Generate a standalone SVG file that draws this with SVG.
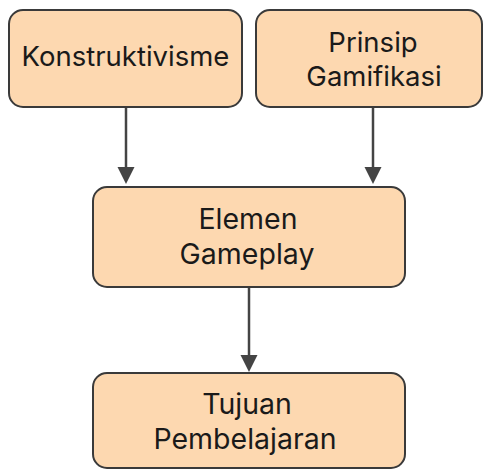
<svg xmlns="http://www.w3.org/2000/svg" width="484" height="471" viewBox="0 0 484 471">
<defs>
<style>
.box{fill:#FDD8B0;stroke:#3a3a3a;stroke-width:2}
.t{font-family:Inter,"Liberation Sans",sans-serif;font-size:27.5px;fill:#1a1a1a;text-anchor:middle}
.l{font-size:28.5px}
.c{stroke:#444;stroke-width:2.5;fill:none}
.h{fill:#444}
</style>
</defs>
<rect width="484" height="471" fill="#fff"/>
<g id="connectors">
<line class="c" x1="126" y1="107" x2="126" y2="168"/>
<polygon class="h" points="117.5,167 134.5,167 126,184"/>
<line class="c" x1="373" y1="107" x2="373" y2="168"/>
<polygon class="h" points="364.5,167 381.5,167 373,184"/>
<line class="c" x1="249" y1="287" x2="249" y2="356"/>
<polygon class="h" points="240.5,355 257.5,355 249,372"/>
</g>
<g id="konstruktivisme">
<rect class="box" x="9" y="10" width="233" height="97" rx="14"/>
<text class="t" x="125.5" y="66">Konstruktivisme</text>
</g>
<g id="prinsip">
<rect class="box" x="256" y="10" width="226" height="97" rx="14"/>
<text class="t" x="373" y="52">Prinsip</text>
<text class="t" x="374" y="86">Gamifikasi</text>
</g>
<g id="elemen">
<rect class="box" x="93" y="187" width="312" height="100" rx="14"/>
<text class="t l" x="248" y="229">Elemen</text>
<text class="t l" x="247" y="264">Gameplay</text>
</g>
<g id="tujuan">
<rect class="box" x="93" y="373" width="312" height="95" rx="14"/>
<text class="t l" x="247" y="414">Tujuan</text>
<text class="t l" x="245" y="449">Pembelajaran</text>
</g>
</svg>
